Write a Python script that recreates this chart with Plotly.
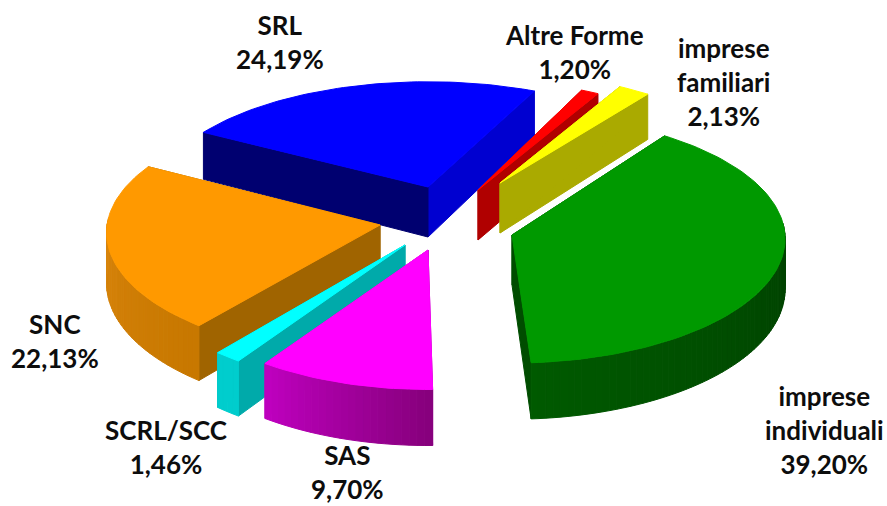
import math
import plotly.graph_objects as go

categories = ["imprese individuali", "SAS", "SCRL/SCC", "SNC", "SRL", "Altre Forme", "imprese familiari"]
values = [39.20, 9.70, 1.46, 22.13, 24.19, 1.20, 2.13]
value_labels = ["39,20%", "9,70%", "1,46%", "22,13%", "24,19%", "1,20%", "2,13%"]

# drawing style per slice
apex = [(512, 235), (428, 250), (405, 245), (380, 225), (428, 187), (478, 190), (500, 183)]
scale = [1.03, 1.0, 1.02, 1.03, 1.03, 1.0, 1.0]
persp = [0.03, 0.12, 0.12, 0.06, 0.12, 0.12, 0.12]
squash = [0.455, 0.47, 0.47, 0.455, 0.44, 0.47, 0.47]
nudge = [-3.0, 0, 0, 0, 0, 0, 0]
top = ["#009900", "#ff00ff", "#00ffff", "#ff9900", "#0000ff", "#ff0000", "#ffff00"]
rim_start = [(0, 50, 0), (135, 0, 125), (0, 205, 205), (200, 120, 0), (0, 0, 110), (170, 0, 0), (170, 170, 0)]
rim_end = [(0, 90, 0), (190, 0, 190), (0, 205, 205), (225, 140, 20), (0, 0, 120), (170, 0, 0), (170, 170, 0)]
face_start = ["#004d00", "#a000a0", "#00aaaa", "#a06400", "#000070", "#b00000", "#aaaa00"]
face_end = ["#004d00", "#c000c0", "#00aaaa", "#a06400", "#0000d0", "#b00000", "#aaaa00"]
label_pos = [(824, 430), (347, 472), (166, 447), (55, 341), (280, 42), (574, 52), (723, 82)]

START = 38.0
R, DEPTH = 265.0, 50.0


def proj(i, theta, r, z=0.0):
    a = apex[i]
    t = math.radians(theta + nudge[i])
    r = r * scale[i]
    up = r * math.cos(t) / R
    f = 1 - persp[i] * up
    dz = z * (1 - 0.12 * up)
    return (a[0] + r * math.sin(t) * f, a[1] - r * math.cos(t) * squash[i] * f + dz)


fig = go.Figure()


def poly(pts, color):
    xs = [p[0] for p in pts] + [pts[0][0]]
    ys = [p[1] for p in pts] + [pts[0][1]]
    fig.add_trace(go.Scatter(x=xs, y=ys, mode="lines", fill="toself", fillcolor=color,
                             line=dict(color=color, width=1), hoverinfo="skip", showlegend=False))


total = sum(values)
spans, cur = [], START
for v in values:
    spans.append((cur, cur + v / total * 360))
    cur += v / total * 360

for i in [4, 5, 6, 3, 0, 2, 1]:
    a0, a1 = spans[i]
    n = max(4, int((a1 - a0) / 1.5))
    angles = [a0 + (a1 - a0) * j / n for j in range(n + 1)]
    # radial faces
    poly([proj(i, a1, 0), proj(i, a1, R), proj(i, a1, R, DEPTH), proj(i, a1, 0, DEPTH)], face_end[i])
    poly([proj(i, a0, 0), proj(i, a0, R), proj(i, a0, R, DEPTH), proj(i, a0, 0, DEPTH)], face_start[i])
    # outer rim strips, shaded along the arc; only those facing the viewer
    for j in range(n):
        if math.cos(math.radians((angles[j] + angles[j + 1]) / 2)) > 0.05:
            continue
        u = j / max(1, n - 1)
        col = tuple(int(rim_start[i][k] + (rim_end[i][k] - rim_start[i][k]) * u) for k in range(3))
        poly([proj(i, angles[j], R), proj(i, angles[j + 1], R),
              proj(i, angles[j + 1], R, DEPTH), proj(i, angles[j], R, DEPTH)], "rgb(%d,%d,%d)" % col)
    # top
    poly([proj(i, 0, 0)] + [proj(i, t, R) for t in angles], top[i])

for name, val, pos in zip(categories, value_labels, label_pos):
    words = name.split(" ")
    text = "<br>".join(words + [val]) if len(words) > 1 and name != "Altre Forme" else name + "<br>" + val
    fig.add_annotation(x=pos[0], y=pos[1], text=text, showarrow=False, align="center",
                       font=dict(family="Lato", size=26, color="#0d0d0d", weight="bold"))

fig.update_xaxes(range=[0, 887], visible=False, fixedrange=True)
fig.update_yaxes(range=[506, 0], visible=False, fixedrange=True)
fig.update_layout(width=887, height=506, margin=dict(l=0, r=0, t=0, b=0),
                  paper_bgcolor="white", plot_bgcolor="white", showlegend=False)
fig.write_html("out.html", post_script="document.body.style.margin='0';",
               config=dict(displayModeBar=False, staticPlot=True))
